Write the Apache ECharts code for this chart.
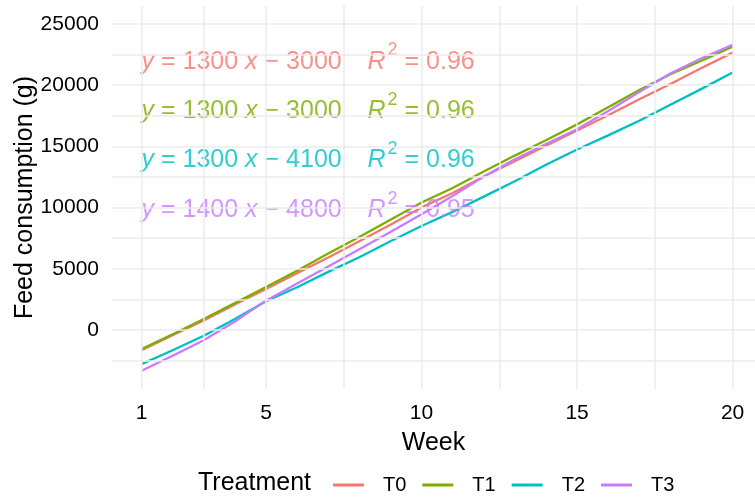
<!DOCTYPE html>
<html>
<head>
<meta charset="utf-8">
<script src="https://cdn.jsdelivr.net/npm/echarts@6/dist/echarts.min.js"></script>
<style>
html,body{margin:0;padding:0;background:#fff;}
#c{width:755px;height:499px;}
</style>
</head>
<body>
<div id="c"></div>
<script>
// ---- data ----
const weeks = [1,2,3,4,5,6,7,8,9,10,11,12,13,14,15,16,17,18,19,20];
const T0 = [-1650,-430,790,2080,3350,4650,5930,7250,8600,10020,11200,12550,13800,15050,16300,17550,18850,20100,21400,22660];
const T1 = [-1550,-350,900,2200,3510,4850,6250,7600,9000,10420,11600,12950,14250,15500,16800,18200,19600,20900,22000,23150];
const T2 = [-2780,-1650,-470,900,2350,3500,4750,5950,7250,8500,9650,10900,12150,13500,14750,15900,17100,18400,19700,21030];
const T3 = [-3320,-2100,-830,700,2400,3800,5200,6600,8000,9450,10950,12550,13950,15200,16400,17900,19450,20950,22200,23290];
const treatments = ['T0','T1','T2','T3'];
const colors = ['#F8766D','#7CAE00','#00BFC4','#C77CFF'];

// regression equation labels
const eqSlope = [1300,1300,1300,1400];
const eqIntercept = [3000,3000,4100,4800];
const eqR2 = ['0.96','0.96','0.96','0.95'];
const eqLabelX = 1;
const eqLabelY = [21900,17850,13850,9800];

// axis ticks / grid breaks
const xTicks = [1,5,10,15,20];
const xGrid = [1,3,5,7.5,10,12.5,15,17.5,20];
const yTicks = [0,5000,10000,15000,20000,25000];
const yGrid = [-2500,0,2500,5000,7500,10000,12500,15000,17500,20000,22500,25000];

const FONT = "'Liberation Sans', Arial, sans-serif";
const allSeries = [T0,T1,T2,T3];
const gridLineStyle = {color:'#EBEBEB', width:1.5, type:'solid', opacity:1};

const chart = echarts.init(document.getElementById('c'), null, {renderer:'canvas'});

const series = [];
// grid lines (drawn as mark lines beneath the data)
series.push({
  type:'line', data:[], silent:true, z:0,
  markLine:{
    silent:true, symbol:['none','none'], animation:false, precision:3,
    label:{show:false},
    emphasis:{disabled:true},
    lineStyle:gridLineStyle,
    data: xGrid.map(v=>({xAxis:v, lineStyle:gridLineStyle}))
      .concat(yGrid.map(v=>({yAxis:v, lineStyle:gridLineStyle})))
  }
});
treatments.forEach((t,i)=>{
  series.push({
    name:t, type:'line', z:2,
    data: weeks.map((w,k)=>[w, allSeries[i][k]]),
    showSymbol:false, symbol:'none',
    lineStyle:{color:colors[i], width:2.3},
    itemStyle:{color:colors[i]},
    emphasis:{disabled:true}
  });
});
// equation annotations
series.push({
  type:'scatter', z:3, silent:true, symbolSize:0,
  data: eqLabelY.map((y,i)=>({
    value:[eqLabelX, y],
    label:{
      show:true, position:'right', distance:0,
      formatter: '{i|y} = ' + eqSlope[i] + ' {i|x} \u2212 ' + eqIntercept[i] + '\u2009   {i|R}{sup|2} = ' + eqR2[i],
      color: colors[i], fontFamily: FONT, fontSize:25, lineHeight:25,
      rich:{
        i:{fontStyle:'italic', color:colors[i], fontFamily:FONT, fontSize:25, lineHeight:25},
        sup:{color:colors[i], fontFamily:FONT, fontSize:18, lineHeight:18, padding:[0,0,23,2]}
      }
    }
  }))
});

chart.setOption({
  animation:false,
  backgroundColor:'#ffffff',
  grid:{left:112, right:0, top:6, bottom:110, containLabel:false, outerBoundsMode:'none'},
  xAxis:{
    type:'value', min:0.05, max:20.72,
    name:'Week', nameLocation:'middle', nameGap:42, nameMoveOverlap:false,
    nameTextStyle:{fontFamily:FONT, fontSize:25, color:'#000'},
    axisLine:{show:false}, axisTick:{show:false}, splitLine:{show:false},
    axisLabel:{customValues:xTicks, fontFamily:FONT, fontSize:21, color:'#000', margin:14}
  },
  yAxis:{
    type:'value', min:-4816, max:26470,
    name:'Feed consumption (g)', nameLocation:'middle', nameGap:74, nameRotate:90, nameMoveOverlap:false,
    nameTextStyle:{fontFamily:FONT, fontSize:25, color:'#000'},
    axisLine:{show:false}, axisTick:{show:false}, splitLine:{show:false},
    axisLabel:{customValues:yTicks, fontFamily:FONT, fontSize:21, color:'#000', margin:13,
      formatter:(v)=>String(Math.round(v))}
  },
  legend:{
    data:treatments, orient:'horizontal', left:328, top:470,
    icon:'rect', itemWidth:31, itemHeight:3, itemGap:16,
    textStyle:{fontFamily:FONT, fontSize:20, color:'#000', padding:[0,0,0,14]}
  },
  graphic:[{
    type:'text', left:198, top:471,
    style:{text:'Treatment', fontFamily:FONT, fontSize:25, fill:'#000'}
  }],
  series: series
});
</script>
</body>
</html>
